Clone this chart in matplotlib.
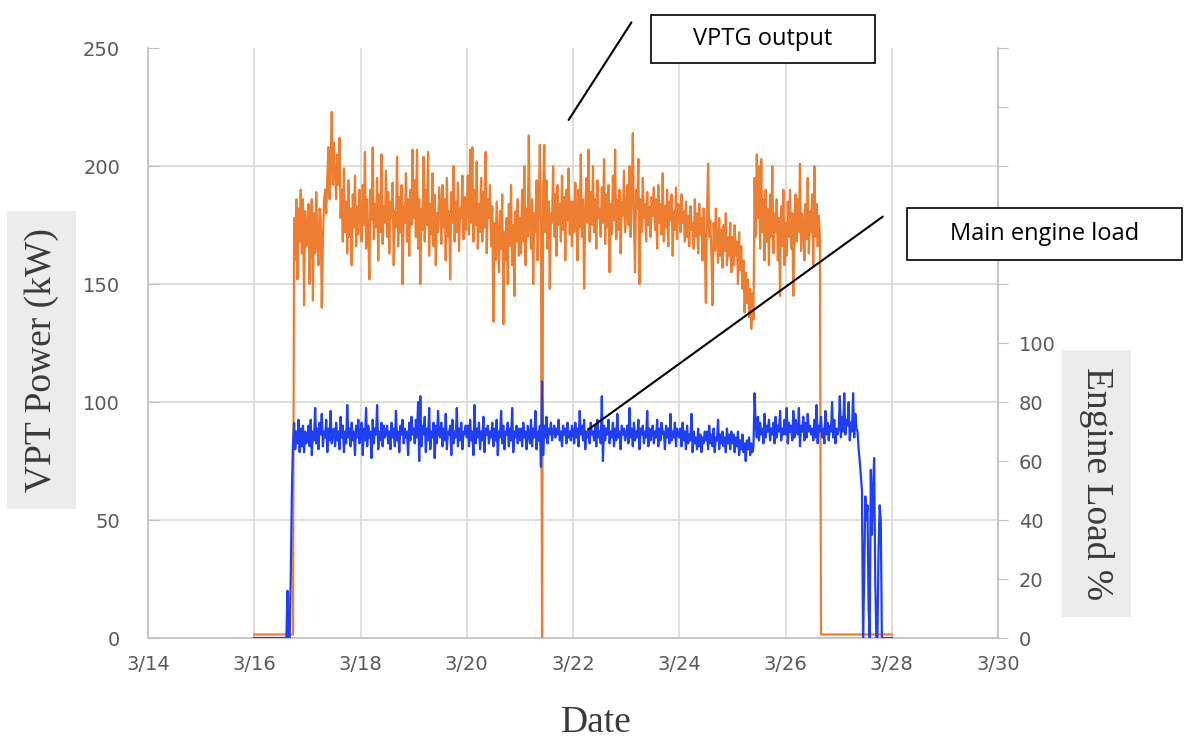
import pandas as pd
import matplotlib
matplotlib.use("Agg")
import matplotlib.pyplot as plt
import matplotlib.dates as mdates
from matplotlib.patches import Rectangle

# half-hourly samples, 3/16 00:00 .. 3/28 00:00
start = "2016-03-16 00:00"

# VPTG output (kW)
vptg_kw = [
    # 3/16
    1.5, 1.5, 1.5, 1.5, 1.5, 1.5, 1.5, 1.5, 1.5, 1.5, 1.5, 1.5, 1.5, 1.5, 1.5, 1.5, 1.5, 1.5, 1.5, 1.5, 1.5, 1.5, 1.5, 1.5,
    1.5, 1.5, 1.5, 1.5, 1.5, 1.5, 1.5, 1.5, 1.5, 1.5, 1.5, 1.5, 178, 160, 186, 152, 182, 168, 190, 163, 186, 141, 181, 166,
    # 3/17
    172, 184, 150, 176, 186, 143, 180, 163, 189, 168, 158, 182, 178, 140, 168, 185, 190, 180, 195, 208, 186, 201, 223, 192,
    210, 196, 186, 205, 192, 212, 178, 190, 168, 199, 172, 185, 163, 194, 170, 182, 158, 188, 174, 196, 166, 183, 171, 190,
    # 3/18
    180, 168, 192, 175, 206, 165, 186, 171, 152, 190, 177, 208, 169, 184, 174, 195, 160, 188, 172, 205, 167, 183, 176, 198,
    170, 189, 163, 185, 178, 193, 158, 181, 174, 204, 166, 187, 172, 192, 150, 183, 176, 197, 168, 186, 162, 190, 175, 207,
    # 3/19
    178, 194, 170, 207, 165, 186, 150, 182, 173, 204, 168, 190, 175, 206, 162, 184, 171, 197, 166, 188, 158, 180, 172, 191,
    183, 167, 192, 174, 186, 160, 195, 170, 181, 152, 189, 176, 200, 168, 185, 172, 193, 164, 182, 178, 196, 169, 187, 173,
    # 3/20
    182, 196, 171, 207, 176, 208, 168, 190, 175, 202, 165, 184, 172, 195, 168, 189, 174, 206, 163, 186, 178, 192, 166, 183,
    134, 176, 160, 185, 170, 155, 181, 165, 188, 133, 172, 160, 178, 150, 184, 166, 192, 158, 175, 145, 181, 168, 186, 162,
    # 3/21
    178, 163, 190, 168, 200, 158, 182, 170, 213, 176, 165, 186, 150, 180, 172, 194, 160, 183, 209, 175, 0, 190, 209, 172,
    194, 165, 185, 148, 180, 176, 200, 170, 188, 162, 192, 175, 184, 168, 196, 173, 187, 160, 190, 177, 199, 171, 185, 166,
    # 3/22
    185, 172, 193, 178, 160, 190, 174, 205, 170, 186, 148, 180, 195, 176, 207, 168, 189, 175, 200, 172, 186, 165, 194, 178,
    182, 170, 191, 176, 203, 167, 188, 174, 192, 155, 184, 171, 196, 177, 207, 169, 186, 173, 190, 163, 185, 179, 198, 172,
    # 3/23
    180, 192, 175, 200, 170, 188, 214, 176, 155, 190, 182, 203, 150, 186, 172, 195, 178, 184, 168, 189, 175, 183, 170, 187,
    179, 191, 173, 186, 165, 192, 176, 184, 171, 197, 168, 183, 174, 190, 166, 185, 177, 188, 162, 181, 173, 191, 169, 184,
    # 3/24
    183, 172, 188, 176, 181, 168, 185, 170, 179, 166, 183, 173, 176, 165, 186, 170, 180, 163, 184, 171, 178, 160, 182, 168,
    142, 180, 201, 170, 177, 162, 141, 176, 164, 182, 168, 159, 178, 162, 173, 157, 175, 164, 180, 158, 170, 162, 176, 155,
    # 3/25
    170, 158, 175, 162, 168, 150, 172, 156, 166, 148, 160, 138, 155, 142, 152, 136, 148, 131, 146, 135, 195, 170, 205, 178,
    200, 165, 203, 172, 186, 160, 190, 168, 182, 158, 188, 170, 200, 163, 180, 172, 186, 160, 178, 145, 183, 166, 190, 158,
    # 3/26
    176, 162, 185, 170, 190, 165, 180, 145, 178, 188, 168, 186, 172, 201, 164, 180, 175, 160, 184, 169, 195, 163, 181, 172,
    188, 158, 200, 170, 184, 166, 179, 171, 1.5, 1.5, 1.5, 1.5, 1.5, 1.5, 1.5, 1.5, 1.5, 1.5, 1.5, 1.5, 1.5, 1.5, 1.5, 1.5,
    # 3/27
    1.5, 1.5, 1.5, 1.5, 1.5, 1.5, 1.5, 1.5, 1.5, 1.5, 1.5, 1.5, 1.5, 1.5, 1.5, 1.5, 1.5, 1.5, 1.5, 1.5, 1.5, 1.5, 1.5, 1.5,
    1.5, 1.5, 1.5, 1.5, 1.5, 1.5, 1.5, 1.5, 1.5, 1.5, 1.5, 1.5, 1.5, 1.5, 1.5, 1.5, 1.5, 1.5, 1.5, 1.5, 1.5, 1.5, 1.5, 1.5,
    # 3/28
    1.5,
]

# main engine load (%)
engine_load = [
    # 3/16
    0, 0, 0, 0, 0, 0, 0, 0, 0, 0, 0, 0, 0, 0, 0, 0, 0, 0, 0, 0, 0, 0, 0, 0,
    0, 0, 0, 0, 0, 0, 16, 0, 0, 22, 50, 66, 73, 64, 70, 66, 74, 63, 71, 65, 72, 63, 70, 66,
    # 3/17
    68, 72, 65, 74, 62, 70, 67, 78, 66, 71, 64, 73, 69, 76, 65, 70, 68, 74, 63, 71, 67, 77, 66, 70,
    71, 65, 73, 67, 70, 64, 75, 68, 72, 63, 70, 66, 79, 68, 71, 65, 73, 67, 70, 62, 72, 68, 74, 66,
    # 3/18
    69, 73, 62, 71, 67, 78, 65, 72, 68, 70, 61, 74, 66, 71, 69, 79, 64, 70, 67, 73, 65, 72, 68, 70,
    72, 66, 70, 64, 73, 68, 71, 65, 77, 67, 70, 63, 72, 69, 74, 66, 71, 68, 70, 62, 73, 67, 75, 69,
    # 3/19
    71, 66, 74, 68, 80, 60, 82, 65, 72, 69, 75, 63, 71, 67, 78, 64, 70, 68, 73, 61, 72, 66, 77, 69,
    68, 73, 65, 71, 67, 76, 64, 70, 69, 72, 62, 74, 66, 70, 68, 78, 65, 71, 67, 73, 64, 70, 69, 72,
    # 3/20
    68, 72, 65, 74, 67, 70, 62, 79, 66, 71, 68, 73, 64, 70, 67, 75, 63, 71, 69, 72, 66, 70, 68, 73,
    65, 71, 67, 74, 62, 70, 68, 77, 66, 72, 64, 70, 69, 73, 65, 71, 67, 78, 63, 70, 68, 72, 66, 71,
    # 3/21
    67, 71, 65, 73, 68, 70, 64, 72, 69, 66, 74, 65, 71, 68, 77, 64, 70, 67, 72, 58, 87, 62, 72, 68,
    75, 66, 71, 69, 73, 67, 70, 72, 68, 71, 69, 74, 67, 70, 65, 72, 69, 71, 66, 73, 68, 70, 67, 72,
    # 3/22
    70, 66, 73, 68, 71, 65, 77, 69, 72, 67, 74, 64, 70, 68, 71, 66, 73, 69, 70, 67, 72, 65, 74, 68,
    70, 66, 82, 60, 72, 67, 71, 69, 74, 66, 70, 68, 73, 65, 71, 67, 76, 68, 70, 64, 72, 69, 71, 67,
    # 3/23
    69, 72, 66, 78, 68, 71, 65, 73, 67, 70, 68, 74, 64, 71, 69, 72, 66, 70, 68, 77, 65, 71, 67, 70,
    72, 66, 70, 68, 74, 65, 71, 67, 73, 69, 70, 64, 72, 68, 71, 66, 76, 67, 70, 68, 73, 65, 71, 69,
    # 3/24
    68, 71, 65, 73, 67, 70, 64, 72, 66, 69, 67, 76, 63, 70, 66, 68, 64, 71, 65, 69, 63, 68, 66, 70,
    67, 70, 64, 72, 66, 69, 65, 71, 63, 68, 67, 74, 64, 69, 66, 70, 65, 68, 63, 71, 66, 69, 64, 70,
    # 3/25
    66, 69, 63, 68, 65, 70, 62, 67, 64, 69, 63, 66, 60, 67, 64, 68, 62, 66, 63, 65, 83, 72, 68, 75,
    67, 73, 69, 71, 66, 76, 68, 72, 70, 74, 67, 71, 69, 73, 66, 75, 68, 72, 70, 77, 67, 71, 69, 74,
    # 3/26
    69, 78, 66, 73, 70, 72, 67, 77, 68, 74, 71, 69, 78, 65, 72, 70, 75, 67, 73, 68, 76, 70, 72, 69,
    71, 67, 74, 68, 79, 66, 72, 70, 75, 68, 71, 66, 77, 69, 73, 67, 72, 70, 80, 68, 74, 66, 71, 69,
    # 3/27
    71, 82, 68, 75, 70, 83, 69, 74, 72, 80, 67, 73, 70, 83, 68, 76, 71, 70, 64, 60, 55, 50, 0, 20,
    48, 40, 45, 10, 0, 57, 35, 50, 61, 20, 0, 0, 30, 45, 40, 0, 0, 0, 0, 0, 0, 0, 0, 0,
    # 3/28
    0,
]

date_ticks = pd.date_range("2016-03-14", "2016-03-30", freq="2D")
kw_ticks = [0, 50, 100, 150, 200, 250]
load_ticks = [0, 20, 40, 60, 80, 100, 120, 140, 160, 180, 200]

times = pd.date_range(start, periods=len(vptg_kw), freq="30min")

fig = plt.figure(figsize=(11.84, 7.41), dpi=100)
ax = fig.add_axes([0.125, 0.139, 0.718, 0.796])
ax2 = ax.twinx()

ax.plot(times, vptg_kw, color="#ED7D31", lw=1.6, zorder=3)
ax2.plot(times, engine_load, color="#1f3ff0", lw=1.6, zorder=3)

grid_c = "#d9d9d9"
spine_c = "#bfbfbf"
tick_c = "#595959"

ax.set_xlim(date_ticks[0], date_ticks[-1])
ax.set_ylim(0, 250)
ax.set_yticks(kw_ticks)
ax.set_xticks(date_ticks)
ax.set_xticklabels([f"{d.month}/{d.day}" for d in date_ticks])
ax.grid(True, color=grid_c, lw=1.2)
ax.set_axisbelow(True)
ax.yaxis.get_gridlines()[-1].set_visible(False)
ax.tick_params(axis="y", direction="in", length=8, color=spine_c, labelsize=14,
               labelcolor=tick_c, pad=20)
ax.tick_params(axis="x", length=0, labelsize=14, labelcolor=tick_c, pad=12)
for s in ["top", "right"]:
    ax.spines[s].set_visible(False)
for s in ["left", "bottom"]:
    ax.spines[s].set_color(spine_c)
    ax.spines[s].set_linewidth(1.2)

ax2.set_ylim(0, 200)
ax2.set_yticks(load_ticks)
ax2.set_yticklabels([str(v) if v <= 100 else "" for v in load_ticks])
ax2.tick_params(axis="y", direction="out", length=7, color=spine_c, labelsize=14,
                labelcolor=tick_c, pad=8)
for s in ["top", "left", "bottom"]:
    ax2.spines[s].set_visible(False)
ax2.spines["right"].set_color(spine_c)
ax2.spines["right"].set_linewidth(1.2)

serif = "Liberation Serif"
fig.text(0.035, 0.514, "VPT Power (kW)", rotation=90, ha="center", va="center",
         fontsize=27, family=serif, color="#3a3a3a",
         bbox=dict(facecolor="#ececec", edgecolor="none", boxstyle="square,pad=0.45"))
fig.text(0.926, 0.347, "Engine Load %", rotation=-90, ha="center", va="center",
         fontsize=27, family=serif, color="#3a3a3a",
         bbox=dict(facecolor="#ececec", edgecolor="none", boxstyle="square,pad=0.45"))
fig.text(0.504, 0.025, "Date", ha="center", va="center", fontsize=27, family=serif,
         color="#3a3a3a")

# callout lines
ax.annotate("", xy=(mdates.date2num(pd.Timestamp("2016-03-21 21:20")), 218.6),
            xytext=(0.5346, 0.973), textcoords="figure fraction",
            arrowprops=dict(arrowstyle="-", color="black", lw=1.5), annotation_clip=False)
ax2.annotate("", xy=(mdates.date2num(pd.Timestamp("2016-03-22 06:00")), 70.2),
             xytext=(0.7475, 0.7099), textcoords="figure fraction",
             arrowprops=dict(arrowstyle="-", color="black", lw=1.5), annotation_clip=False)

# callout boxes
fig.add_artist(Rectangle((0.550, 0.915), 0.189, 0.0648, transform=fig.transFigure,
                         facecolor="white", edgecolor="black", lw=1.2))
fig.text(0.644, 0.947, "VPTG output", ha="center", va="center", fontsize=17,
         family="Open Sans", color="black")
fig.add_artist(Rectangle((0.766, 0.649), 0.232, 0.0702, transform=fig.transFigure,
                         facecolor="white", edgecolor="black", lw=1.2, zorder=5))
fig.text(0.882, 0.684, "Main engine load", ha="center", va="center", fontsize=17,
         family="Open Sans", color="black", zorder=6)

fig.savefig("out.png", dpi=100)
